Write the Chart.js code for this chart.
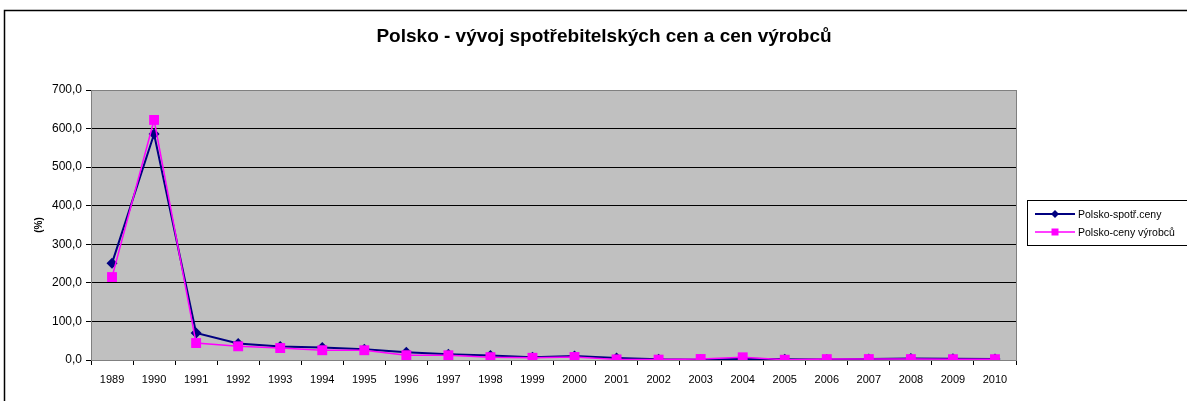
<!DOCTYPE html>
<html>
<head>
<meta charset="utf-8">
<script src="https://cdn.jsdelivr.net/npm/chart.js@4"></script>
<style>
  html, body { margin: 0; padding: 0; background: #fff; }
  #wrap { width: 1187px; height: 401px; }
</style>
</head>
<body>
<div id="wrap"><canvas id="myChart" width="1187" height="401"></canvas></div>
<script>
const years = ['1989', '1990', '1991', '1992', '1993', '1994', '1995', '1996', '1997', '1998', '1999',
  '2000', '2001', '2002', '2003', '2004', '2005', '2006', '2007', '2008', '2009', '2010'];
const spotrebitelske = [251.1, 585.8, 70.3, 43.0, 35.3, 32.2, 27.8, 19.9, 14.9, 11.8, 7.3,
  10.1, 5.5, 1.9, 0.8, 3.5, 2.1, 1.0, 2.5, 4.2, 3.5, 2.6];
const vyrobce = [215.0, 622.4, 44.0, 35.5, 31.0, 25.3, 25.3, 12.4, 12.2, 7.3, 5.7,
  7.8, 1.6, 1.0, 2.6, 7.0, 0.7, 2.3, 2.4, 2.3, 2.1, 2.1];
const yTicks = [0, 100, 200, 300, 400, 500, 600, 700];
const chartTitle = 'Polsko - vývoj spotřebitelských cen a cen výrobců';

const FONT = 'Arial, "Liberation Sans", sans-serif';

const frameAndLegend = {
  id: 'frameAndLegend',
  beforeDraw(chart) {
    const c = chart.ctx;
    c.save();
    c.fillStyle = '#fff';
    c.fillRect(0, 0, chart.width, chart.height);
    c.strokeStyle = '#000';
    c.lineWidth = 1.5;
    c.strokeRect(4.5, 10.5, 1200, 420);
    // plot area fill
    const a = chart.chartArea;
    c.fillStyle = '#C0C0C0';
    c.fillRect(a.left, a.top, a.right - a.left, a.bottom - a.top);
    // title
    c.fillStyle = '#000';
    c.font = 'bold 19px ' + FONT;
    c.textAlign = 'center';
    c.textBaseline = 'middle';
    c.fillText(chartTitle, 604, 37);
    c.restore();
  },
  afterDraw(chart) {
    const c = chart.ctx;
    const a = chart.chartArea;
    c.save();
    c.strokeStyle = '#808080';
    c.lineWidth = 1;
    c.strokeRect(a.left + 0.5, a.top + 0.5, a.right - a.left, a.bottom - a.top);
    // legend box
    c.strokeStyle = '#000';
    c.strokeRect(1027.5, 200.5, 170, 45);
    const entries = [chart.data.datasets[1], chart.data.datasets[0]];
    entries.forEach((ds, i) => {
      const y = 214 + i * 18;
      c.strokeStyle = ds.borderColor;
      c.lineWidth = ds.borderWidth;
      c.beginPath();
      c.moveTo(1035, y);
      c.lineTo(1075, y);
      c.stroke();
      c.fillStyle = ds.backgroundColor;
      c.beginPath();
      if (ds.pointStyle === 'rectRot') {
        c.moveTo(1055, y - 4); c.lineTo(1059, y); c.lineTo(1055, y + 4); c.lineTo(1051, y);
      } else {
        c.rect(1051.5, y - 3.5, 7, 7);
      }
      c.closePath();
      c.fill();
      c.fillStyle = '#000';
      c.font = '10.5px ' + FONT;
      c.textBaseline = 'middle';
      c.textAlign = 'left';
      c.fillText(ds.label, 1078, y + 1);
    });
    c.restore();
  }
};

new Chart(document.getElementById('myChart'), {
  type: 'line',
  data: {
    labels: years,
    datasets: [
      {
        label: 'Polsko-ceny výrobců',
        data: vyrobce,
        borderColor: '#FF00FF',
        backgroundColor: '#FF00FF',
        borderWidth: 1.5,
        pointStyle: 'rect',
        pointRadius: 7,
        pointBorderWidth: 0,
        tension: 0,
        order: 0,
      },
      {
        label: 'Polsko-spotř.ceny',
        data: spotrebitelske,
        borderColor: '#000080',
        backgroundColor: '#000080',
        borderWidth: 2,
        pointStyle: 'rectRot',
        pointRadius: 5.5,
        pointBorderWidth: 0,
        tension: 0,
        order: 1,
      },
    ],
  },
  options: {
    responsive: false,
    animation: false,
    layout: { padding: { left: 33, right: 171, top: 90, bottom: 0 } },
    plugins: {
      legend: { display: false },
      tooltip: { enabled: false },
      title: { display: false },
    },
    scales: {
      x: {
        offset: true,
        afterFit: (s) => { s.height = 41; },
        grid: { offset: true, drawOnChartArea: false, drawTicks: true, tickLength: 5, color: '#000' },
        border: { color: '#000' },
        ticks: {
          color: '#000',
          maxRotation: 0,
          autoSkip: false,
          padding: 8,
          font: { family: FONT, size: 11 },
        },
      },
      y: {
        min: 0,
        max: 700,
        afterFit: (s) => { s.width = 58; },
        afterBuildTicks: (s) => { s.ticks = yTicks.map((v) => ({ value: v })); },
        grid: { color: '#000', lineWidth: 1, tickLength: 5, tickColor: '#000' },
        border: { color: '#000' },
        ticks: {
          color: '#000',
          padding: 4,
          font: { family: FONT, size: 12 },
          callback: (v) => v.toFixed(1).replace('.', ','),
        },
        title: {
          display: true,
          text: '(%)',
          color: '#000',
          padding: 0,
          font: { family: FONT, size: 10, weight: 'bold' },
        },
      },
    },
  },
  plugins: [frameAndLegend],
});
</script>
</body>
</html>
